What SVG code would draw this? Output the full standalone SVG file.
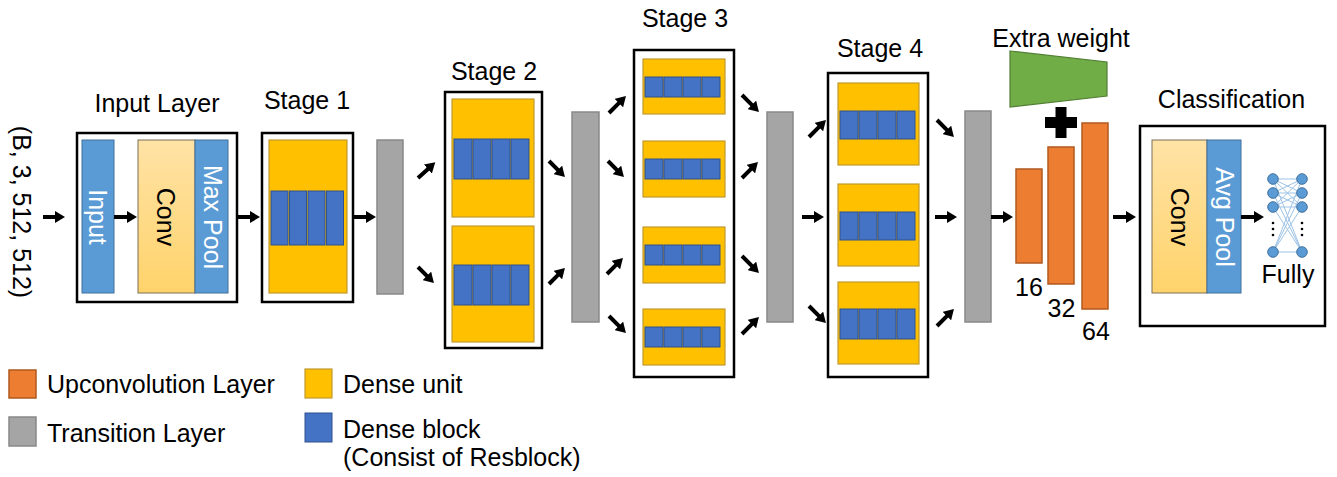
<svg xmlns="http://www.w3.org/2000/svg" width="1337" height="477" viewBox="0 0 1337 477">
  <defs>
    <linearGradient id="convGrad" x1="0" y1="0" x2="0" y2="1">
      <stop offset="0" stop-color="#FFE3A6"/>
      <stop offset="1" stop-color="#FFD36B"/>
    </linearGradient>
    <marker id="ah" markerUnits="userSpaceOnUse" markerWidth="11" markerHeight="12" refX="1" refY="6" orient="auto" viewBox="0 0 11 12">
      <path d="M0,0 L10,6 L0,12 z" fill="#000"/>
    </marker>
    <style>
      text { font-family: "Liberation Sans", Arial, sans-serif; font-size: 25px; fill: #000; }
      .mid { text-anchor: middle; }
      .white { fill: #fff; }
      .frame { fill: #fff; stroke: #000; stroke-width: 2.5; }
      .pool { fill: #5B9BD5; stroke: #41719C; stroke-width: 1; }
      .conv { fill: url(#convGrad); stroke: #7A6E58; stroke-width: 1; }
      .unit { fill: #FFC000; stroke: #C29A2E; stroke-width: 1.2; }
      .block { fill: #4472C4; stroke: #2F528F; stroke-width: 1; }
      .trans { fill: #A5A5A5; stroke: #898989; stroke-width: 1.5; }
      .up { fill: #ED7D31; stroke: #B0591F; stroke-width: 1.5; }
      .arrow { stroke: #000; stroke-width: 4; fill: none; marker-end: url(#ah); }
      .fc line { stroke: #9DC3E6; stroke-width: 1; }
      .fc circle.n { fill: #5B9BD5; stroke: #41719C; stroke-width: 1; }
    </style>
  </defs>

  <rect width="1337" height="477" fill="#fff"/>

  <!-- input tensor shape -->
  <g id="input-shape">
    <text class="mid" transform="translate(13,212) rotate(90)">(B, 3, 512, 512)</text>
  </g>

  <!-- input layer -->
  <g id="input-layer">
    <text class="mid" x="157" y="112">Input Layer</text>
    <rect class="frame" x="77" y="133" width="160" height="169"/>
    <rect class="pool" x="82" y="140" width="32" height="153"/>
    <text class="mid white" transform="translate(89,217) rotate(90)">Input</text>
    <rect class="conv" x="138" y="140" width="57" height="153"/>
    <text class="mid" transform="translate(157,217) rotate(90)">Conv</text>
    <rect class="pool" x="195" y="140" width="33" height="153"/>
    <text class="mid white" transform="translate(204,217) rotate(90)">Max Pool</text>
  </g>

  <!-- stage 1 -->
  <g id="stage1">
    <text class="mid" x="307" y="109">Stage 1</text>
    <rect class="frame" x="262" y="133" width="91" height="169"/>
    <rect class="unit" x="269" y="140" width="78" height="153"/>
    <rect class="block" x="271" y="191" width="17" height="54"/>
    <rect class="block" x="289.5" y="191" width="17" height="54"/>
    <rect class="block" x="308" y="191" width="17" height="54"/>
    <rect class="block" x="326.5" y="191" width="17" height="54"/>
  </g>

  <g id="transition1"><rect class="trans" x="377" y="140" width="26" height="154"/></g>

  <!-- stage 2 -->
  <g id="stage2">
    <text class="mid" x="494" y="80">Stage 2</text>
    <rect class="frame" x="445" y="92" width="97" height="256"/>
    <rect class="unit" x="452" y="99" width="82" height="118"/>
    <rect class="block" x="454" y="139" width="18" height="40"/>
    <rect class="block" x="473" y="139" width="18" height="40"/>
    <rect class="block" x="492" y="139" width="18" height="40"/>
    <rect class="block" x="511" y="139" width="18" height="40"/>
    <rect class="unit" x="452" y="226" width="82" height="116"/>
    <rect class="block" x="454" y="265" width="18" height="40"/>
    <rect class="block" x="473" y="265" width="18" height="40"/>
    <rect class="block" x="492" y="265" width="18" height="40"/>
    <rect class="block" x="511" y="265" width="18" height="40"/>
  </g>

  <g id="transition2"><rect class="trans" x="572" y="112" width="27" height="210"/></g>

  <!-- stage 3 -->
  <g id="stage3">
    <text class="mid" x="685" y="27">Stage 3</text>
    <rect class="frame" x="634" y="50" width="100" height="327"/>
    <rect class="unit" x="643" y="59" width="82" height="55"/>
    <rect class="block" x="645" y="77" width="18" height="20"/>
    <rect class="block" x="664" y="77" width="18" height="20"/>
    <rect class="block" x="683" y="77" width="18" height="20"/>
    <rect class="block" x="702" y="77" width="18" height="20"/>
    <rect class="unit" x="643" y="141" width="82" height="56"/>
    <rect class="block" x="645" y="159" width="18" height="20"/>
    <rect class="block" x="664" y="159" width="18" height="20"/>
    <rect class="block" x="683" y="159" width="18" height="20"/>
    <rect class="block" x="702" y="159" width="18" height="20"/>
    <rect class="unit" x="643" y="227" width="82" height="56"/>
    <rect class="block" x="645" y="245" width="18" height="20"/>
    <rect class="block" x="664" y="245" width="18" height="20"/>
    <rect class="block" x="683" y="245" width="18" height="20"/>
    <rect class="block" x="702" y="245" width="18" height="20"/>
    <rect class="unit" x="643" y="309" width="82" height="56"/>
    <rect class="block" x="645" y="327" width="18" height="20"/>
    <rect class="block" x="664" y="327" width="18" height="20"/>
    <rect class="block" x="683" y="327" width="18" height="20"/>
    <rect class="block" x="702" y="327" width="18" height="20"/>
  </g>

  <g id="transition3"><rect class="trans" x="767" y="112" width="26" height="210"/></g>

  <!-- stage 4 -->
  <g id="stage4">
    <text class="mid" x="880" y="57">Stage 4</text>
    <rect class="frame" x="828" y="73" width="100" height="304"/>
    <rect class="unit" x="838" y="83" width="81" height="82"/>
    <rect class="block" x="840" y="111" width="18" height="28"/>
    <rect class="block" x="859" y="111" width="18" height="28"/>
    <rect class="block" x="878" y="111" width="18" height="28"/>
    <rect class="block" x="897" y="111" width="18" height="28"/>
    <rect class="unit" x="838" y="184" width="81" height="82"/>
    <rect class="block" x="840" y="212" width="18" height="28"/>
    <rect class="block" x="859" y="212" width="18" height="28"/>
    <rect class="block" x="878" y="212" width="18" height="28"/>
    <rect class="block" x="897" y="212" width="18" height="28"/>
    <rect class="unit" x="838" y="282" width="81" height="82"/>
    <rect class="block" x="840" y="309" width="18" height="30"/>
    <rect class="block" x="859" y="309" width="18" height="30"/>
    <rect class="block" x="878" y="309" width="18" height="30"/>
    <rect class="block" x="897" y="309" width="18" height="30"/>
  </g>

  <g id="transition4"><rect class="trans" x="965" y="111" width="26" height="211"/></g>

  <!-- extra weight added to the upconvolution stack -->
  <g id="extra-weight">
    <text class="mid" x="1061" y="47">Extra weight</text>
    <polygon points="1010,51 1107,62 1107,96 1010,107" fill="#70AD47" stroke="#507E32" stroke-width="1.2"/>
    <path d="M1055.5,107 h11 v10 h10.5 v11 h-10.5 v10 h-11 v-10 h-10.5 v-11 h10.5 z" fill="#000"/>
  </g>

  <!-- upconvolution layers -->
  <g id="upconv16">
    <rect class="up" x="1016" y="169" width="26" height="94"/>
    <text class="mid" x="1029" y="296">16</text>
  </g>
  <g id="upconv32">
    <rect class="up" x="1048" y="147" width="26" height="137"/>
    <text class="mid" x="1061.5" y="317">32</text>
  </g>
  <g id="upconv64">
    <rect class="up" x="1082" y="123" width="26" height="186"/>
    <text class="mid" x="1096" y="340">64</text>
  </g>

  <!-- classification head -->
  <g id="classification">
    <text class="mid" x="1231.5" y="108">Classification</text>
    <rect class="frame" x="1140" y="126" width="185" height="200"/>
    <rect class="conv" x="1152" y="140" width="55" height="153"/>
    <text class="mid" transform="translate(1171,217) rotate(90)">Conv</text>
    <rect class="pool" x="1207" y="140" width="34" height="153"/>
    <text class="mid white" transform="translate(1216,217) rotate(90)">Avg Pool</text>
    <g class="fc">
      <line x1="1273" y1="179" x2="1302" y2="179"/>
      <line x1="1273" y1="179" x2="1302" y2="193"/>
      <line x1="1273" y1="179" x2="1302" y2="207"/>
      <line x1="1273" y1="179" x2="1302" y2="252"/>
      <line x1="1273" y1="193" x2="1302" y2="179"/>
      <line x1="1273" y1="193" x2="1302" y2="193"/>
      <line x1="1273" y1="193" x2="1302" y2="207"/>
      <line x1="1273" y1="193" x2="1302" y2="252"/>
      <line x1="1273" y1="207" x2="1302" y2="179"/>
      <line x1="1273" y1="207" x2="1302" y2="193"/>
      <line x1="1273" y1="207" x2="1302" y2="207"/>
      <line x1="1273" y1="207" x2="1302" y2="252"/>
      <line x1="1273" y1="252" x2="1302" y2="179"/>
      <line x1="1273" y1="252" x2="1302" y2="193"/>
      <line x1="1273" y1="252" x2="1302" y2="207"/>
      <line x1="1273" y1="252" x2="1302" y2="252"/>
      <circle class="n" cx="1273" cy="179" r="5.3"/>
      <circle class="n" cx="1273" cy="193" r="5.3"/>
      <circle class="n" cx="1273" cy="207" r="5.3"/>
      <circle class="n" cx="1273" cy="252" r="5.3"/>
      <circle class="n" cx="1302" cy="179" r="5.3"/>
      <circle class="n" cx="1302" cy="193" r="5.3"/>
      <circle class="n" cx="1302" cy="207" r="5.3"/>
      <circle class="n" cx="1302" cy="252" r="5.3"/>
      <circle cx="1273" cy="223" r="1.3" fill="#000"/>
      <circle cx="1273" cy="229" r="1.3" fill="#000"/>
      <circle cx="1273" cy="235" r="1.3" fill="#000"/>
      <circle cx="1302" cy="223" r="1.3" fill="#000"/>
      <circle cx="1302" cy="229" r="1.3" fill="#000"/>
      <circle cx="1302" cy="235" r="1.3" fill="#000"/>
    </g>
    <text class="mid" x="1288" y="283">Fully</text>
  </g>

  <!-- connectors -->
  <g id="connectors">
    <line class="arrow" x1="43" y1="217" x2="56" y2="217"/>
    <line class="arrow" x1="114" y1="217" x2="128" y2="217"/>
    <line class="arrow" x1="237" y1="217" x2="251" y2="217"/>
    <line class="arrow" x1="353" y1="217" x2="367" y2="217"/>
    <line class="arrow" x1="418" y1="178" x2="428.6" y2="168.4"/>
    <line class="arrow" x1="418" y1="267" x2="427.6" y2="276.6"/>
    <line class="arrow" x1="549" y1="161" x2="558.6" y2="170.6"/>
    <line class="arrow" x1="549" y1="284" x2="558.6" y2="274.4"/>
    <line class="arrow" x1="609" y1="113" x2="619.6" y2="102.4"/>
    <line class="arrow" x1="608" y1="161" x2="617.6" y2="170.6"/>
    <line class="arrow" x1="607" y1="274" x2="616.6" y2="264.4"/>
    <line class="arrow" x1="609" y1="316" x2="619.6" y2="326.6"/>
    <line class="arrow" x1="742" y1="95" x2="752.6" y2="105.6"/>
    <line class="arrow" x1="742" y1="178" x2="751.6" y2="168.4"/>
    <line class="arrow" x1="742" y1="256" x2="752.6" y2="266.6"/>
    <line class="arrow" x1="742" y1="334" x2="752.6" y2="323.4"/>
    <line class="arrow" x1="809" y1="137" x2="819.6" y2="126.4"/>
    <line class="arrow" x1="802" y1="217" x2="815" y2="217"/>
    <line class="arrow" x1="809" y1="306" x2="819.6" y2="316.6"/>
    <line class="arrow" x1="937" y1="120" x2="947.6" y2="130.6"/>
    <line class="arrow" x1="935" y1="217" x2="948" y2="217"/>
    <line class="arrow" x1="937" y1="326" x2="947.6" y2="315.4"/>
    <line class="arrow" x1="991" y1="217" x2="1004" y2="217"/>
    <line class="arrow" x1="1113" y1="217" x2="1127" y2="217"/>
    <line class="arrow" x1="1241" y1="217" x2="1255" y2="217"/>
  </g>

  <!-- legend -->
  <g id="legend">
    <rect class="up" x="9" y="370" width="27" height="28"/>
    <text x="47" y="393">Upconvolution Layer</text>
    <rect class="trans" x="9" y="417" width="27" height="29"/>
    <text x="47" y="442">Transition Layer</text>
    <rect class="unit" x="305" y="369" width="27" height="29"/>
    <text x="343" y="393">Dense unit</text>
    <rect class="block" x="305" y="413" width="27" height="29"/>
    <text x="343" y="438">Dense block</text>
    <text x="343" y="466">(Consist of Resblock)</text>
  </g>
</svg>
